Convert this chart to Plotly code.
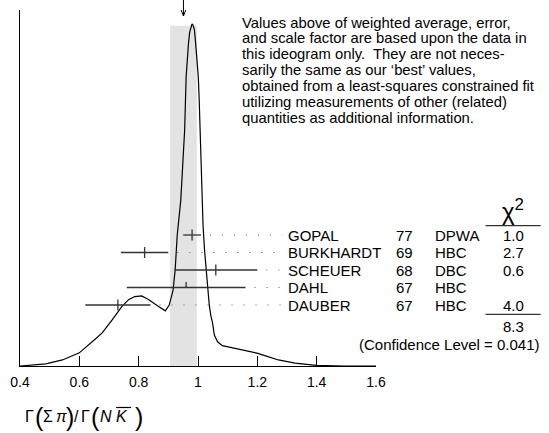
import plotly.graph_objects as go

# ---------------- data ----------------
names = ["GOPAL", "BURKHARDT", "SCHEUER", "DAHL", "DAUBER"]
years = ["77", "69", "68", "67", "67"]
techs = ["DPWA", "HBC", "DBC", "HBC", "HBC"]
values = [0.98, 0.82, 1.06, 0.96, 0.73]
errors = [0.03, 0.08, 0.14, 0.20, 0.11]
chi2 = ["1.0", "2.7", "0.6", "", "4.0"]
half_tick = [False, False, False, True, False]
chi2_total = "8.3"
conf_level = "0.041"
avg = 0.951
avg_err = 0.045

curve_x = [0.400, 0.443, 0.487, 0.543, 0.600, 0.653, 0.677, 0.710, 0.743, 0.767,
           0.787, 0.810, 0.833, 0.867, 0.890, 0.903, 0.916, 0.923, 0.930, 0.942,
           0.955, 0.960, 0.963, 0.968, 0.972, 0.977, 0.980, 0.983, 0.988, 0.992,
           0.997, 1.001, 1.004, 1.007, 1.010, 1.013, 1.017, 1.022, 1.027, 1.033,
           1.038, 1.043, 1.049, 1.055, 1.066, 1.082, 1.110, 1.138, 1.167, 1.199,
           1.233, 1.271, 1.327, 1.399, 1.493, 1.600]
curve_y = [0.000, 0.002, 0.006, 0.017, 0.037, 0.075, 0.093, 0.129, 0.167, 0.187,
           0.195, 0.197, 0.187, 0.167, 0.155, 0.171, 0.213, 0.270, 0.368, 0.466,
           0.663, 0.812, 0.860, 0.907, 0.938, 0.955, 0.961, 0.958, 0.944, 0.907,
           0.860, 0.812, 0.747, 0.663, 0.565, 0.466, 0.396, 0.326, 0.270, 0.213,
           0.171, 0.143, 0.121, 0.087, 0.068, 0.057, 0.052, 0.048, 0.042, 0.036,
           0.027, 0.017, 0.008, 0.002, 0.000, 0.000]

tick_vals = [0.4, 0.6, 0.8, 1.0, 1.2, 1.4, 1.6]
tick_text = ["0.4", "0.6", "0.8", "1", "1.2", "1.4", "1.6"]

note_lines = [
    "Values above of weighted average, error,",
    "and scale factor are based upon the data in",
    "this ideogram only.\u00a0 They are not neces-",
    "sarily the same as our \u2018best\u2019 values,",
    "obtained from a least-squares constrained fit",
    "utilizing measurements of other (related)",
    "quantities as additional information.",
]

# x-axis title pieces: (text, italic, big)
title_parts = [("\u0393", False, False), ("(", False, True), ("\u03a3", False, False),
               ("\u03c0", True, False), (")", False, True), ("/", False, False),
               ("\u0393", False, False), ("(", False, True), ("N", True, False),
               ("K", True, False), (")", False, True)]
title_px = [20, 30.5, 38.5, 51.5, 61, 69, 77, 86.5, 96, 111.5, 131]

# ---------------- layout helpers ----------------
W, H = 549, 433
PL, PR, PT, PB = 17, 376, 10, 366
FONT = "Liberation Sans, Arial, Helvetica, sans-serif"


def xp(px):
    return (px - PL) / (PR - PL)


def yp(py):
    return (PB - py) / (PB - PT)


row0, row_step = 235.0, 17.5
rows = [yp(row0 + row_step * i) for i in range(len(names))]
tick_h = 5.5 / (PB - PT)

fig = go.Figure()

# ideogram curve
fig.add_trace(go.Scatter(x=curve_x, y=curve_y, mode="lines",
                         line=dict(color="black", width=1.2),
                         hoverinfo="skip", showlegend=False))

# measurement error bars and central ticks
bx, by = [], []
for v, e, r, ht in zip(values, errors, rows, half_tick):
    bx += [v - e, v + e, None, v, v, None]
    by += [r, r, None, r if ht else r - tick_h, r + tick_h, None]
fig.add_trace(go.Scatter(x=bx, y=by, mode="lines",
                         line=dict(color="#333333", width=1.3),
                         hoverinfo="skip", showlegend=False))

# dotted leaders
label_x = 0.4 + (286.7 - PL) / 300.0
lx, ly = [], []
for v, e, r in zip(values, errors, rows):
    lx += [v + e + 0.03, label_x - 0.015, None]
    ly += [r, r, None]
fig.add_trace(go.Scatter(x=lx, y=ly, mode="lines",
                         line=dict(color="#777777", width=1.2, dash="1.2px,10.8px"),
                         hoverinfo="skip", showlegend=False))

shapes = []
# average band
shapes.append(dict(type="rect", xref="x", yref="y", x0=avg - avg_err, x1=avg + avg_err,
                   y0=0, y1=yp(25.7), fillcolor="#e3e3e3", line=dict(width=0), layer="below"))
# arrow at weighted average
shapes.append(dict(type="line", xref="x", yref="paper", x0=avg, x1=avg, y0=yp(0), y1=yp(16),
                   line=dict(color="black", width=1)))
for s in (-1, 1):
    shapes.append(dict(type="line", xref="x", yref="paper", x0=avg + s * 0.008, x1=avg,
                       y0=yp(10), y1=yp(16), line=dict(color="black", width=1)))
# chi2 rules
for py in (225.7, 314.3):
    shapes.append(dict(type="line", xref="paper", yref="paper", x0=xp(486.5), x1=xp(542),
                       y0=yp(py), y1=yp(py), line=dict(color="black", width=1)))
# overline on K in the axis title
shapes.append(dict(type="line", xref="paper", yref="paper", x0=xp(114), x1=xp(129),
                   y0=yp(407.5), y1=yp(407.5), line=dict(color="black", width=1.2)))

ann = []


def add_text(text, px, py, anchor="left", size=15.0, yref_val=None):
    ann.append(dict(text=text, xref="paper", yref="paper", x=xp(px),
                    y=yp(py) if yref_val is None else yref_val,
                    xanchor=anchor, yanchor="middle", showarrow=False,
                    font=dict(family=FONT, size=size, color="black")))


for i, r in enumerate(rows):
    add_text(names[i], 285.5, None, yref_val=r)
    add_text(years[i], 394.5, None, yref_val=r)
    add_text(techs[i], 433, None, yref_val=r)
    if chi2[i]:
        add_text(chi2[i], 515, None, anchor="center", yref_val=r)

add_text("\u03c7<sup>2</sup>", 514, 210, anchor="center", size=24)
add_text(chi2_total, 515, 326.7, anchor="center")
add_text("(Confidence Level = " + conf_level + ")", 543, 344.3, anchor="right")

for k, line in enumerate(note_lines):
    add_text(line, 238.5, 22.5 + 15.9 * k, size=14.8)

for (t, it, bg), px in zip(title_parts, title_px):
    txt = "<i>%s</i>" % t if it else t
    add_text(txt, px, 416.5 if bg else 416, size=25 if bg else 16)

fig.update_layout(
    width=W, height=H,
    margin=dict(l=PL, r=W - PR, t=PT, b=H - PB, pad=0),
    paper_bgcolor="white", plot_bgcolor="white",
    shapes=shapes, annotations=ann, showlegend=False,
    xaxis=dict(range=[0.4, 1.6], showgrid=False, zeroline=False, showline=True,
               linecolor="black", linewidth=1, ticks="inside", ticklen=10,
               tickcolor="black", tickwidth=1, tickvals=tick_vals, ticktext=tick_text,
               ticklabelstandoff=3,
               tickfont=dict(family=FONT, size=14, color="black")),
    yaxis=dict(range=[0, 1], showgrid=False, zeroline=False, showline=True,
               linecolor="black", linewidth=1, showticklabels=False, ticks=""),
)

fig.write_html("out.html", config={"displayModeBar": False},
               post_script="document.body.style.margin='0';document.body.style.overflow='hidden';")
